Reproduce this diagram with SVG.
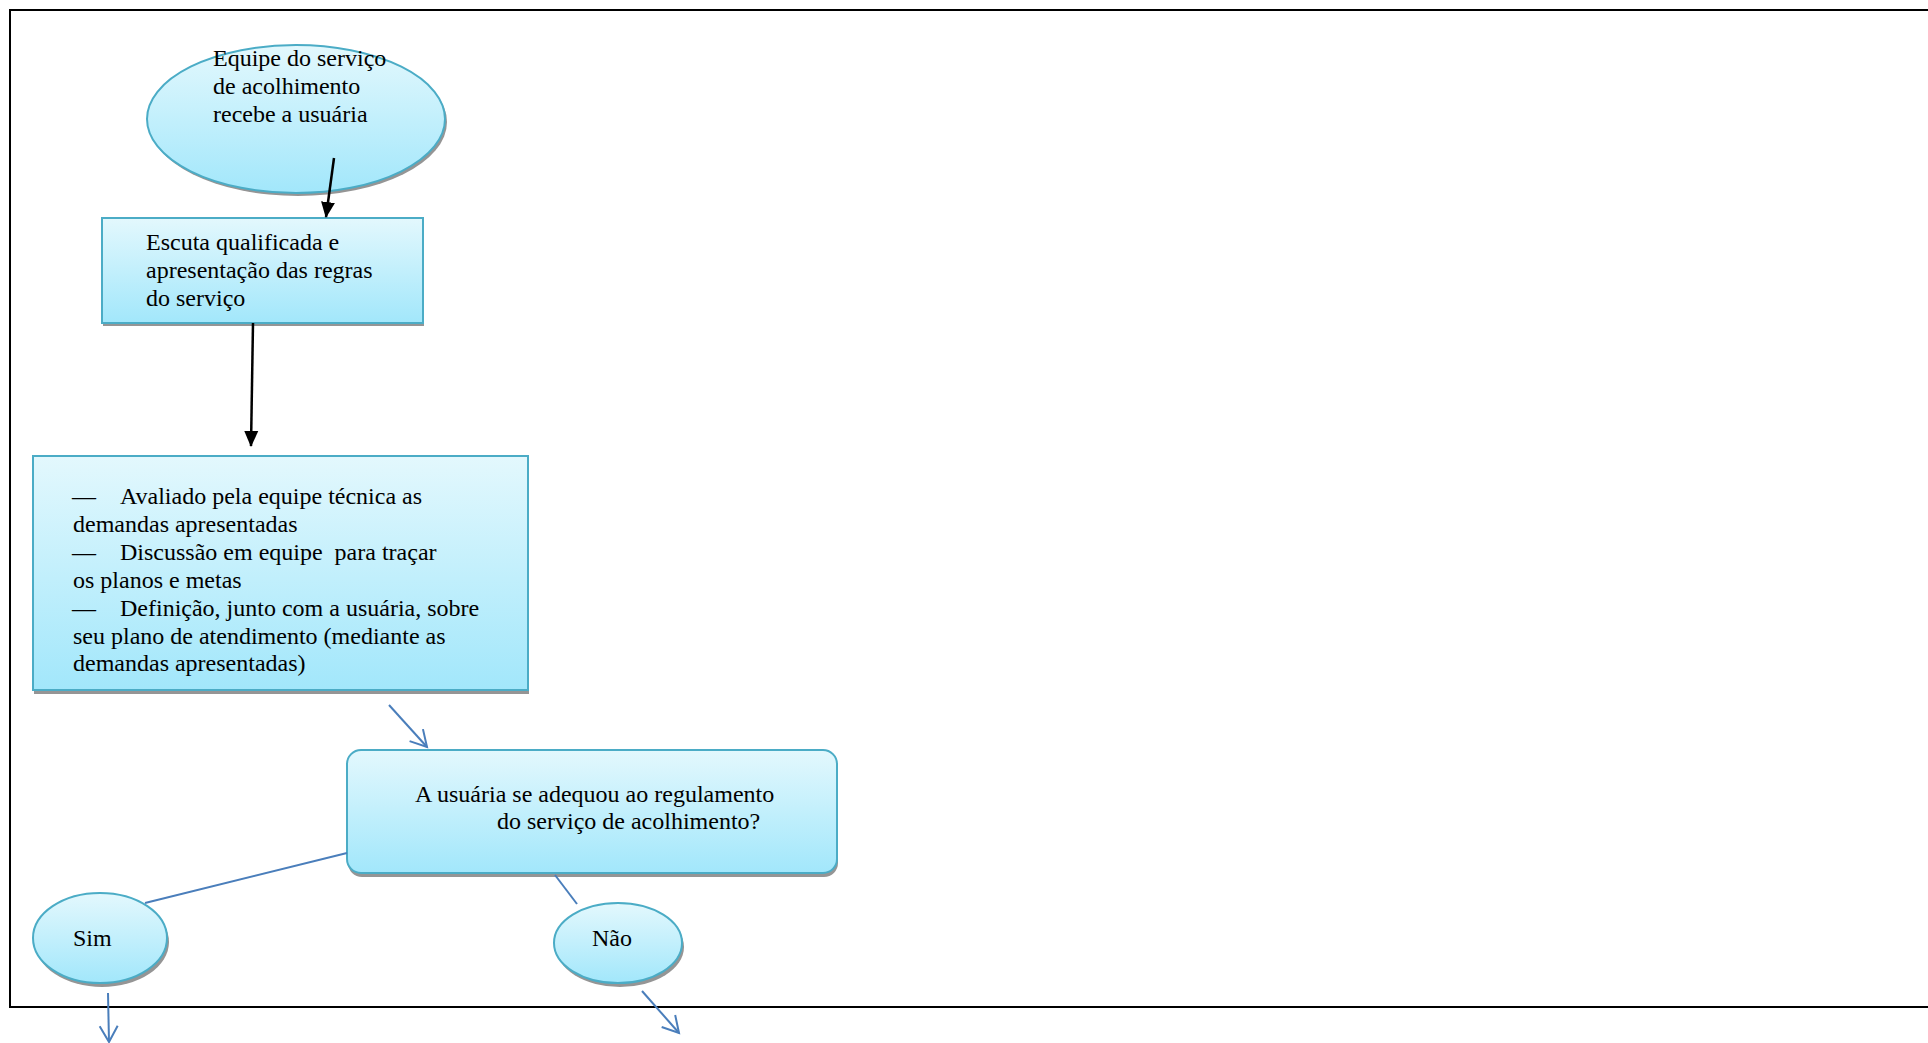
<svg xmlns="http://www.w3.org/2000/svg" width="1928" height="1043" viewBox="0 0 1928 1043">
<style>
.shape{fill:url(#g);stroke:#4bacc6;stroke-width:2}
.shadow{fill:#959595}
.t{font-family:"Liberation Serif","Times New Roman",serif;font-size:24px;fill:#000;white-space:pre}
.blk{stroke:#000;stroke-width:2.5;fill:none}
.blu{stroke:#4a7ebb;stroke-width:2;fill:none}
</style>
<defs>
<linearGradient id="g" x1="0" y1="0" x2="0" y2="1">
<stop offset="0" stop-color="#e3f8fd"/>
<stop offset="1" stop-color="#a2e7fb"/>
</linearGradient>
<marker id="ab" markerWidth="16" markerHeight="16" refX="15" refY="8" orient="auto" markerUnits="userSpaceOnUse" viewBox="0 0 16 16">
<path d="M0,1 L16,8 L0,15 Z" fill="#000"/>
</marker>
<marker id="ao" markerWidth="24" markerHeight="24" refX="20" refY="12" orient="auto" markerUnits="userSpaceOnUse" viewBox="0 0 24 24">
<path d="M4,3 L20,12 L4,21" fill="none" stroke="#4a7ebb" stroke-width="2"/>
</marker>
</defs>
<rect x="0" y="0" width="1928" height="1043" fill="#fff"/>
<rect x="10" y="10" width="1940" height="997" fill="none" stroke="#000" stroke-width="2"/>

<g id="n1">
<ellipse cx="298" cy="122" rx="149" ry="74" class="shadow"/>
<ellipse cx="296" cy="119" rx="149" ry="74" class="shape"/>
<text class="t"><tspan x="213" y="66">Equipe do serviço</tspan><tspan x="213" y="94">de acolhimento</tspan><tspan x="213" y="122">recebe a usuária</tspan></text>
</g>
<g id="n2">
<rect x="103" y="221" width="321" height="105" class="shadow"/>
<rect x="102" y="218" width="321" height="105" class="shape"/>
<text class="t"><tspan x="146" y="250">Escuta qualificada e</tspan><tspan x="146" y="278">apresentação das regras</tspan><tspan x="146" y="306">do serviço</tspan></text>
</g>
<g id="n3">
<rect x="34" y="459" width="495" height="235" class="shadow"/>
<rect x="33" y="456" width="495" height="234" class="shape"/>
<text class="t"><tspan x="72" y="504">—</tspan><tspan x="120" y="504">Avaliado pela equipe técnica as</tspan><tspan x="73" y="532">demandas apresentadas</tspan><tspan x="72" y="560">—</tspan><tspan x="120" y="560">Discussão em equipe  para traçar</tspan><tspan x="73" y="588">os planos e metas</tspan><tspan x="72" y="616">—</tspan><tspan x="120" y="616">Definição, junto com a usuária, sobre</tspan><tspan x="73" y="644">seu plano de atendimento (mediante as</tspan><tspan x="73" y="671">demandas apresentadas)</tspan></text>
</g>
<g id="n4">
<rect x="348" y="754" width="490" height="123" rx="14" class="shadow"/>
<rect x="347" y="750" width="490" height="123" rx="14" class="shape"/>
<text class="t"><tspan x="415" y="802">A usuária se adequou ao regulamento</tspan><tspan x="497" y="829">do serviço de acolhimento?</tspan></text>
</g>
<g id="n5">
<ellipse cx="102" cy="942" rx="67" ry="45" class="shadow"/>
<ellipse cx="100" cy="938" rx="67" ry="45" class="shape"/>
<text class="t" x="73" y="946">Sim</text>
</g>
<g id="n6">
<ellipse cx="620" cy="947" rx="64" ry="40" class="shadow"/>
<ellipse cx="618" cy="943" rx="64" ry="40" class="shape"/>
<text class="t" x="592" y="946">Não</text>
</g>

<g id="connectors">
<line x1="334" y1="158" x2="326" y2="217" class="blk" marker-end="url(#ab)"/>
<line x1="253" y1="323" x2="251" y2="446" class="blk" marker-end="url(#ab)"/>
<line x1="389" y1="705" x2="427" y2="747" class="blu" marker-end="url(#ao)"/>
<line x1="347" y1="853" x2="145" y2="903" class="blu"/>
<line x1="555" y1="875" x2="577" y2="904" class="blu"/>
<line x1="108" y1="993" x2="109" y2="1042" class="blu" marker-end="url(#ao)"/>
<line x1="642" y1="991" x2="679" y2="1033" class="blu" marker-end="url(#ao)"/>
</g>
</svg>
